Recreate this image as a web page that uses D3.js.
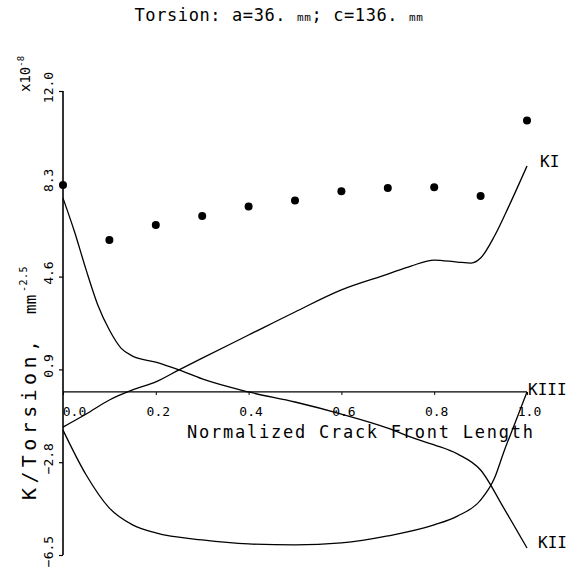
<!DOCTYPE html>
<html>
<head>
<meta charset="utf-8">
<script src="https://cdn.jsdelivr.net/npm/d3@7"></script>
<style>
  html, body { margin: 0; padding: 0; background: #fff; }
  svg text { font-family: "DejaVu Sans Mono", monospace; fill: #000; }
</style>
</head>
<body>
<svg id="chart" width="581" height="571"></svg>
<script>
// Stress intensity factors along the crack front, normalised by torsion load
const position = [0, 0.1, 0.2, 0.3, 0.4, 0.5, 0.6, 0.7, 0.8, 0.9, 1.0];
const referenceK = [8.25, 6.06, 6.66, 7.02, 7.39, 7.63, 8.0, 8.13, 8.16, 7.81, 10.82];

const kIPos = [0, 0.05, 0.1, 0.15, 0.2, 0.25, 0.3, 0.4, 0.5, 0.6, 0.7, 0.75, 0.8, 0.85, 0.88, 0.9, 0.93, 0.96, 1.0];
const kIVal = [-1.40, -0.88, -0.32, 0.08, 0.40, 0.88, 1.35, 2.27, 3.19, 4.07, 4.70, 5.02, 5.26, 5.18, 5.14, 5.34, 6.22, 7.37, 9.01];

const kIIPos = [0, 0.025, 0.05, 0.075, 0.1, 0.125, 0.15, 0.2, 0.25, 0.3, 0.4, 0.5, 0.6, 0.7, 0.75, 0.8, 0.85, 0.9, 0.95, 1.0];
const kIIVal = [7.73, 6.38, 4.86, 3.47, 2.47, 1.75, 1.43, 1.19, 0.88, 0.52, 0.0, -0.40, -0.88, -1.44, -1.80, -2.11, -2.47, -3.11, -4.63, -6.22];

const kIIIPos = [0, 0.05, 0.1, 0.15, 0.2, 0.3, 0.4, 0.5, 0.6, 0.7, 0.8, 0.85, 0.9, 0.93, 0.95, 0.975, 1.0];
const kIIIVal = [-1.52, -3.31, -4.63, -5.30, -5.62, -5.90, -6.06, -6.10, -6.02, -5.74, -5.30, -4.95, -4.31, -3.43, -2.39, -1.20, 0.0];

const xTicks = [0, 0.2, 0.4, 0.6, 0.8, 1.0];
const yTicks = [-6.5, -2.8, 0.9, 4.6, 8.3, 12.0];

const svg = d3.select("#chart");
const x = d3.scaleLinear().domain([0, 1]).range([63, 527]);
const y = d3.scaleLinear().domain([-6.5, 12]).range([555, 91]);

// Title
const title = svg.append("text").attr("x", 279).attr("y", 21)
  .attr("text-anchor", "middle").style("font-size", "17px").style("letter-spacing", "0.6px");
title.append("tspan").text("Torsion: a=36. ");
title.append("tspan").style("font-size", "11px").text("mm");
title.append("tspan").text("; c=136. ");
title.append("tspan").style("font-size", "11px").text("mm");

// Vertical axis with rotated tick labels
const yAxis = svg.append("g").attr("transform", `translate(${x(0)},0)`)
  .call(d3.axisLeft(y).tickValues(yTicks).tickSize(4).tickFormat(d3.format(".1f")));
yAxis.select(".domain").attr("stroke", "#000").attr("stroke-width", 1.6)
  .attr("d", `M0,${y(12)}V${y(-6.5)}`);
yAxis.selectAll(".tick line").attr("stroke", "#000").attr("stroke-width", 1.2);
yAxis.selectAll(".tick text")
  .attr("x", 4).attr("y", 0).attr("dy", null)
  .attr("text-anchor", "middle")
  .attr("transform", "translate(-10,0) rotate(-90)")
  .style("font-size", "13px").style("font-family", "'DejaVu Sans Mono', monospace");

// Horizontal axis along zero; the first label is nudged clear of the vertical axis
const xAxis = svg.append("g").attr("transform", `translate(0,${y(0)})`)
  .call(d3.axisBottom(x).tickValues(xTicks).tickSize(3).tickFormat(d3.format(".1f")));
xAxis.select(".domain").attr("stroke", "#000").attr("stroke-width", 1.3)
  .attr("d", `M${x(0)},0H${x(1)}`);
xAxis.selectAll(".tick line").attr("stroke", "#000");
xAxis.selectAll(".tick text").attr("y", 24).attr("dy", null)
  .attr("x", d => d === 0 ? 11 : 2)
  .style("font-size", "13px").style("font-family", "'DejaVu Sans Mono', monospace");

svg.append("text").attr("x", 187).attr("y", 438)
  .attr("textLength", 346).attr("lengthAdjust", "spacing")
  .style("font-size", "17px").text("Normalized Crack Front Length");

// Axis label, drawn in three pieces along the rotated baseline
const ylab = svg.append("g").attr("transform", "translate(36,500) rotate(-90)");
ylab.append("text").attr("x", 0).attr("y", 0)
  .attr("textLength", 160).attr("lengthAdjust", "spacing")
  .style("font-size", "20px").text("K/Torsion,");
ylab.append("text").attr("x", 186).attr("y", 0)
  .style("font-size", "16px").text("mm");
ylab.append("text").attr("x", 208).attr("y", -9)
  .style("font-size", "10px").style("letter-spacing", "0.5px").text("-2.5");

// Scale multiplier
const mult = svg.append("text").attr("transform", "translate(30,92) rotate(-90)")
  .attr("text-anchor", "start").style("font-size", "14px");
mult.append("tspan").text("x10");
mult.append("tspan").attr("dy", -6).style("font-size", "9px").text("-8");

// Curves
const line = d3.line().x(d => x(d[0])).y(d => y(d[1])).curve(d3.curveMonotoneX);
const series = [
  { pos: kIPos, val: kIVal, name: "KI" },
  { pos: kIIPos, val: kIIVal, name: "KII" },
  { pos: kIIIPos, val: kIIIVal, name: "KIII" }
];
series.forEach(s => {
  svg.append("path")
    .datum(s.pos.map((p, i) => [p, s.val[i]]))
    .attr("fill", "none").attr("stroke", "#000").attr("stroke-width", 1.3)
    .attr("d", line);
});

// Curve labels
svg.append("text").attr("x", 540).attr("y", 167).style("font-size", "16px").text("KI");
svg.append("text").attr("x", 538).attr("y", 548).style("font-size", "16px").text("KII");
svg.append("text").attr("x", 528).attr("y", 395).style("font-size", "16px").text("KIII");

// Reference points
svg.append("g").selectAll("circle")
  .data(position.map((p, i) => [p, referenceK[i]]))
  .join("circle")
  .attr("cx", d => x(d[0])).attr("cy", d => y(d[1])).attr("r", 4)
  .attr("fill", "#000");
</script>
</body>
</html>
